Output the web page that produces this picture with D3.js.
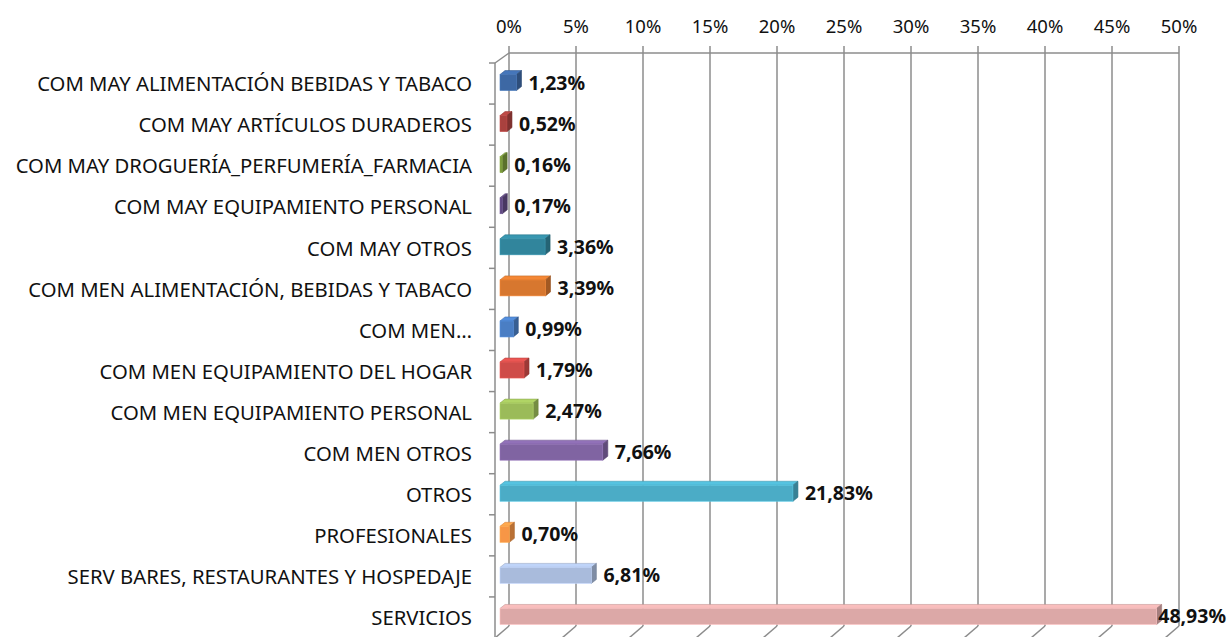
<!DOCTYPE html>
<html lang="es">
<head>
  <meta charset="UTF-8">
  <script src="https://d3js.org/d3.v7.min.js"></script>
  <title>Distribución por sector</title>
  <style>
    body { margin: 0; background: #fff; overflow: hidden; }
    text { font-family: "Noto Sans", "Open Sans", sans-serif; fill: #111; }
  </style>
</head>
<body>
<script>
  // Categories and values (percentages)
  const categories = [
    "COM MAY ALIMENTACIÓN BEBIDAS Y TABACO",
    "COM MAY ARTÍCULOS DURADEROS",
    "COM MAY DROGUERÍA_PERFUMERÍA_FARMACIA",
    "COM MAY EQUIPAMIENTO PERSONAL",
    "COM MAY OTROS",
    "COM MEN ALIMENTACIÓN, BEBIDAS Y TABACO",
    "COM MEN…",
    "COM MEN EQUIPAMIENTO DEL HOGAR",
    "COM MEN EQUIPAMIENTO PERSONAL",
    "COM MEN OTROS",
    "OTROS",
    "PROFESIONALES",
    "SERV BARES, RESTAURANTES Y HOSPEDAJE",
    "SERVICIOS"
  ];
  const values = [1.23, 0.52, 0.16, 0.17, 3.36, 3.39, 0.99, 1.79, 2.47, 7.66, 21.83, 0.70, 6.81, 48.93];
  const ticks = [0, 5, 10, 15, 20, 25, 30, 35, 40, 45, 50];
  const colors = ["#3d68a4", "#a9413e", "#78963a", "#614b82", "#31859c", "#d7772f",
                  "#4a7ec4", "#cf4c49", "#9bbb59", "#8064a2", "#4bacc6", "#f79646",
                  "#a9bbdc", "#dca8a7"];

  const W = 1228, H = 637;
  const svg = d3.select("body").append("svg").attr("width", W).attr("height", H);

  // wall geometry (back plane + depth offset to the front)
  const backX = d3.scaleLinear().domain([0, 50]).range([509, 1179]);
  const frontX = d3.scaleLinear().domain([0, 50]).range([500, 1171]);
  const wallDx = 14, wallDy = 10;
  const backTop = 53, backBottom = 626;
  const y = d3.scaleBand().domain(categories).range([backTop + wallDy, backBottom + wallDy + 2]);

  const grid = svg.append("g").attr("stroke", "#8c8c8c").attr("stroke-width", 1.5).attr("fill", "none");

  // back wall gridlines + floor diagonals
  ticks.forEach(t => {
    const x = backX(t);
    grid.append("line").attr("x1", x).attr("x2", x).attr("y1", backTop - 7).attr("y2", backBottom);
    grid.append("line").attr("x1", x).attr("x2", x - wallDx).attr("y1", backBottom).attr("y2", backBottom + wallDy + 2);
  });
  grid.append("line").attr("x1", backX(0)).attr("x2", backX(50)).attr("y1", backTop).attr("y2", backTop);

  // left side wall: front edge, top diagonal and category ticks
  const lx = backX(0) - wallDx;
  grid.append("line").attr("x1", lx).attr("x2", lx).attr("y1", backTop + wallDy).attr("y2", H);
  grid.append("line").attr("x1", lx).attr("x2", backX(0)).attr("y1", backTop + wallDy).attr("y2", backTop);
  categories.forEach((c, i) => {
    const yy = y(c);
    grid.append("line").attr("x1", lx - 6).attr("x2", lx).attr("y1", yy).attr("y2", yy);
  });

  // top axis labels
  svg.append("g").selectAll("text").data(ticks).join("text")
    .attr("x", d => backX(d))
    .attr("y", 33)
    .attr("text-anchor", "middle")
    .attr("font-size", 18.5)
    .text(d => d + "%");

  // category labels
  svg.append("g").selectAll("text").data(categories).join("text")
    .attr("x", 472)
    .attr("y", d => y(d) + y.bandwidth() / 2)
    .attr("dy", "0.38em")
    .attr("text-anchor", "end")
    .attr("font-size", 20.3)
    .text(d => d);

  // 3D bars
  const bdx = 5, bdy = 4, bh = 16;
  const bars = svg.append("g").selectAll("g").data(values).join("g");
  bars.each(function (v, i) {
    const g = d3.select(this);
    const c = d3.color(colors[i]);
    const x0 = frontX(0), x1 = frontX(v);
    const yc = y(categories[i]) + y.bandwidth() / 2;
    const t = yc - 9, b = t + bh;
    // top face
    g.append("path")
      .attr("d", `M${x0},${t}L${x0 + bdx},${t - bdy}L${x1 + bdx},${t - bdy}L${x1},${t}Z`)
      .attr("fill", c.brighter(0.35)).attr("stroke", c.darker(0.3)).attr("stroke-width", 0.6);
    // side face
    g.append("path")
      .attr("d", `M${x1},${t}L${x1 + bdx},${t - bdy}L${x1 + bdx},${b - bdy}L${x1},${b}Z`)
      .attr("fill", c.darker(0.8)).attr("stroke", c.darker(1)).attr("stroke-width", 0.6);
    // front face
    g.append("rect")
      .attr("x", x0).attr("y", t).attr("width", x1 - x0).attr("height", bh)
      .attr("fill", c).attr("stroke", c.brighter(0.4)).attr("stroke-width", 0.6);
  });

  // value labels
  const fmt = v => v.toFixed(2).replace(".", ",") + "%";
  svg.append("g").selectAll("text").data(values).join("text")
    .attr("font-size", 19.5)
    .attr("font-weight", "bold")
    .attr("y", (d, i) => y(categories[i]) + y.bandwidth() / 2 - 1)
    .attr("dy", "0.36em")
    .text(d => fmt(d))
    .each(function (d) {
      const w = this.getComputedTextLength();
      let x = frontX(d) + bdx + 7;
      if (x + w > W - 2) x = W - 2 - w;
      d3.select(this).attr("x", x);
    });
</script>
</body>
</html>
